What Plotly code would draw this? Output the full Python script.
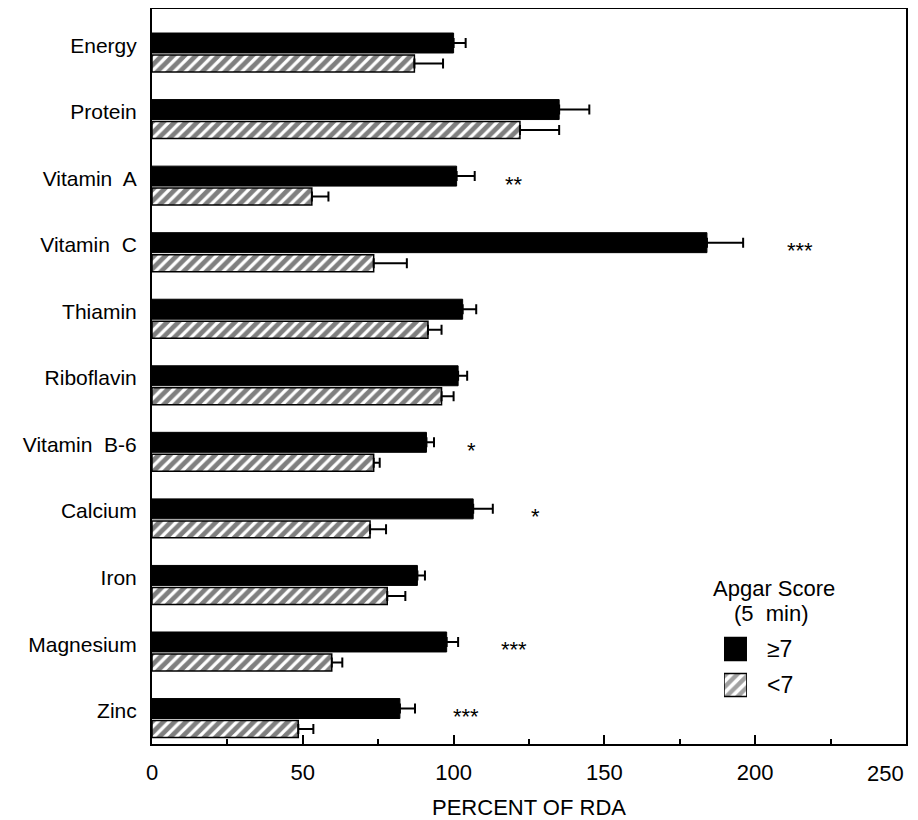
import plotly.graph_objects as go

nutrients = ["Energy", "Protein", "Vitamin  A", "Vitamin  C", "Thiamin", "Riboflavin",
             "Vitamin  B-6", "Calcium", "Iron", "Magnesium", "Zinc"]
high_apgar = [100, 135, 101, 184, 103, 101.5, 91, 106.5, 88, 97.7, 82.2]
high_err = [4, 10, 6, 12, 4.5, 3, 2.5, 6.5, 2.5, 3.8, 5]
low_apgar = [87, 122, 53, 73.5, 91.5, 96, 73.5, 72.3, 78, 59.6, 48.5]
low_err = [9.5, 13, 5.5, 11, 4.5, 4, 2, 5.3, 6, 3.5, 5]
sig_labels = ["", "", "**", "***", "", "", "*", "*", "", "***", "***"]
sig_x = [None, None, 120, 215, None, None, 106, 127, None, 120, 104]
x_ticks = [0, 50, 100, 150, 200, 250]
legend_title = ["Apgar Score", "(5 min)"]
legend_labels = ["≥7", "<7"]

idx = list(range(len(nutrients)))
black_off, hatch_off = -0.143, 0.165

FONT = "Liberation Sans, Arial, Helvetica, sans-serif"
NB = "\u00a0"
HATCH = dict(shape="/", fgcolor="black", bgcolor="white", size=8, solidity=0.6)

fig = go.Figure()
fig.add_trace(go.Bar(
    name=legend_labels[0], orientation="h",
    x=high_apgar, y=[i + black_off for i in idx], width=0.30,
    marker=dict(color="black", line=dict(color="black", width=1)),
    error_x=dict(type="data", array=high_err, symmetric=False, arrayminus=[0]*len(idx),
                 color="black", thickness=2, width=5),
))
fig.add_trace(go.Bar(
    name=legend_labels[1], orientation="h",
    x=low_apgar, y=[i + hatch_off for i in idx], width=0.255,
    marker=dict(color="white", line=dict(color="black", width=1.5), pattern=HATCH),
    error_x=dict(type="data", array=low_err, symmetric=False, arrayminus=[0]*len(idx),
                 color="black", thickness=2, width=5),
))

# legend swatches drawn in a small inset axis
fig.add_trace(go.Bar(
    orientation="h", x=[1, 1], y=[0, 1], width=0.64, xaxis="x2", yaxis="y2",
    marker=dict(color=["black", "white"], line=dict(color="black", width=1.5),
                pattern=dict(shape=["", "/"], fgcolor="black", bgcolor=["black", "white"],
                             size=8, solidity=0.55)),
    hoverinfo="skip", showlegend=False,
))

for i, (lab, sx) in enumerate(zip(sig_labels, sig_x)):
    if lab:
        fig.add_annotation(x=sx, y=i + black_off + 0.12, text=lab, showarrow=False,
                           font=dict(size=22, color="black", family=FONT),
                           xanchor="center", yanchor="middle")

# last tick label, right-aligned at the axis end so it stays inside the page
fig.add_annotation(x=x_ticks[-1], xref="x", yref="paper", y=-0.0395, text=str(x_ticks[-1]),
                   showarrow=False, xanchor="right", yanchor="middle",
                   font=dict(size=22, family=FONT, color="black"))

# legend text
fig.add_annotation(xref="paper", yref="paper", x=0.825, y=0.2109, text=legend_title[0],
                   showarrow=False, xanchor="center", yanchor="middle",
                   font=dict(size=22, family=FONT, color="black"))
fig.add_annotation(xref="paper", yref="paper", x=0.821, y=0.1769, text=legend_title[1].replace(" ", NB + NB),
                   showarrow=False, xanchor="center", yanchor="middle",
                   font=dict(size=22, family=FONT, color="black"))
for lab, yy in zip(legend_labels, [0.1293, 0.0803]):
    fig.add_annotation(xref="paper", yref="paper", x=0.8125, y=yy, text=lab,
                       showarrow=False, xanchor="left", yanchor="middle",
                       font=dict(size=23, family=FONT, color="black"))

fig.update_layout(
    width=910, height=812,
    margin=dict(l=144, r=12, t=1, b=76),
    paper_bgcolor="white", plot_bgcolor="white",
    barmode="overlay",
    font=dict(family=FONT, color="black", size=17),
    showlegend=False,
    xaxis=dict(
        range=[0, 250], tickvals=x_ticks,
        ticktext=[str(v) if v != x_ticks[-1] else "" for v in x_ticks],
        automargin=False,
        ticks="inside", ticklen=9, tickwidth=2, tickcolor="black",
        minor=dict(dtick=25, tick0=0, ticks="inside", ticklen=5, tickwidth=2, tickcolor="black"),
        showline=True, linecolor="black", linewidth=2, mirror=True,
        showgrid=False, zeroline=False, ticklabelstandoff=8,
        tickfont=dict(size=22, family=FONT),
        title=dict(text="PERCENT OF RDA", font=dict(size=22, family=FONT), standoff=26),
    ),
    yaxis=dict(
        range=[10.39, -0.654], tickvals=[i - 0.11 for i in idx], ticktext=nutrients,
        ticks="", showline=True, linecolor="black", linewidth=2, mirror=True, automargin=False,
        showgrid=False, zeroline=False, ticklabelstandoff=9,
        tickfont=dict(size=21, family=FONT),
    ),
    xaxis2=dict(domain=[0.7586, 0.789], range=[0, 1], anchor="y2", visible=False, fixedrange=True),
    yaxis2=dict(domain=[0.0558, 0.1537], range=[1.5, -0.5], anchor="x2", visible=False, fixedrange=True),
)

fig.write_html("out.html")
